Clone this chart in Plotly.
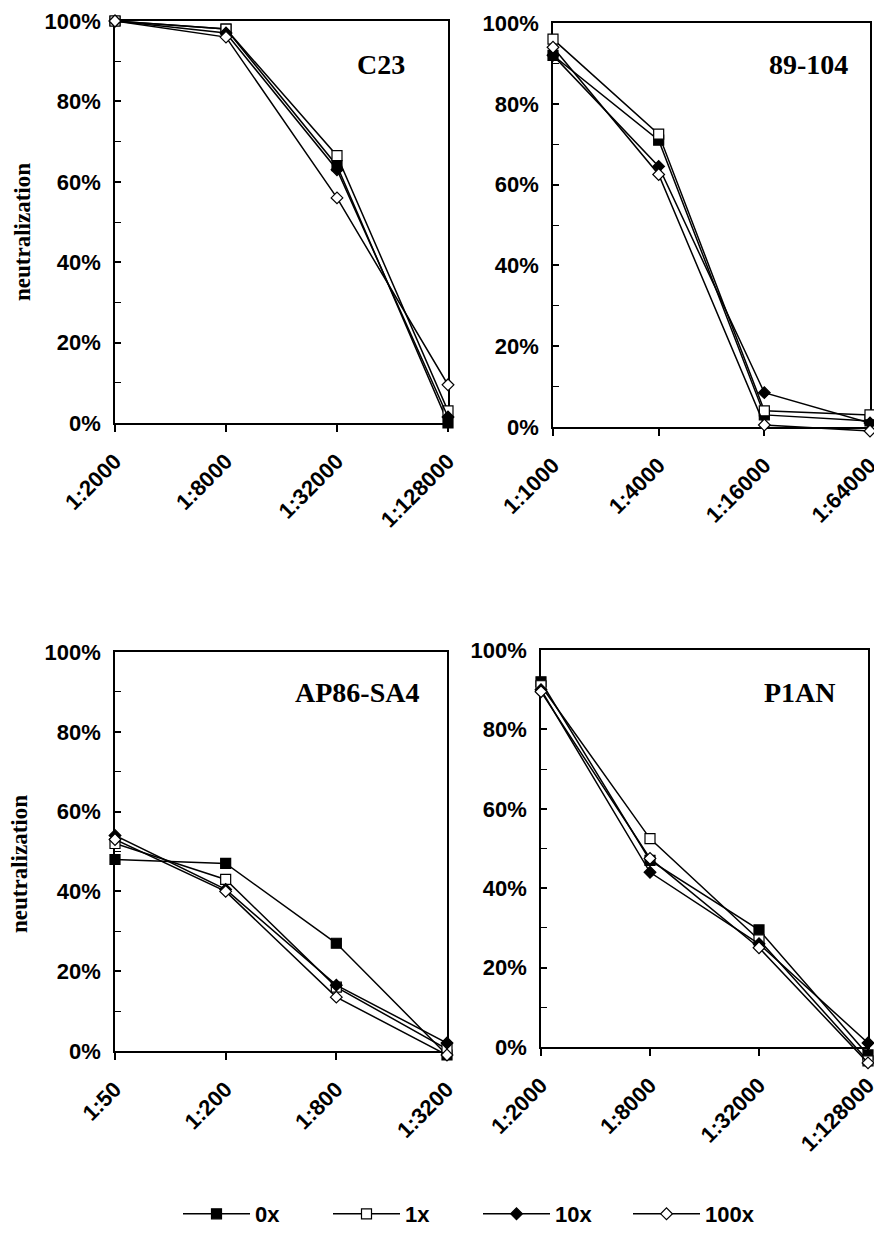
import plotly.graph_objects as go

# ---------------- data ----------------
panel_names = ["C23", "89-104", "AP86-SA4", "P1AN"]

dilutions_c23 = ["1:2000", "1:8000", "1:32000", "1:128000"]
dilutions_89104 = ["1:1000", "1:4000", "1:16000", "1:64000"]
dilutions_ap86 = ["1:50", "1:200", "1:800", "1:3200"]
dilutions_p1an = ["1:2000", "1:8000", "1:32000", "1:128000"]

series_names = ["0x", "1x", "10x", "100x"]

# neutralization (%) per series, per panel
c23_0x = [100, 98, 64, 0]
c23_1x = [100, 98, 66.5, 3]
c23_10x = [100, 97, 63, 1.5]
c23_100x = [100, 96, 56, 9.5]

p89_0x = [92, 71, 3, 1.5]
p89_1x = [96, 72.5, 4, 3]
p89_10x = [92, 64.5, 8.5, 1]
p89_100x = [94, 62.5, 0.5, -1]

ap86_0x = [48, 47, 27, -1]
ap86_1x = [52, 43, 16, 0.5]
ap86_10x = [54, 40.5, 16.5, 2]
ap86_100x = [53, 40, 13.5, -1]

p1an_0x = [92, 47, 29.5, -2]
p1an_1x = [91, 52.5, 27, -3.5]
p1an_10x = [90, 44, 26, 1]
p1an_100x = [89.5, 47.5, 25, -4]

y_ticks = [0, 20, 40, 60, 80, 100]
y_tick_labels = [f"{v}%" for v in y_ticks]

# ---------------- figure ----------------
# the page body has an 8px margin, so the figure starts at (8, 8) in the window;
# keep the page height within the window so no scrollbar appears
OFF = 8
W, H = 882 - OFF, 1235 - 2 * OFF
EXT = 24  # px: data axes reach a little below 0% so slightly negative points still show


def fx(px):
    return (px - OFF) / W


def fy(py):
    return 1 - (py - OFF) / H


panels = [
    dict(name=panel_names[0], labels=dilutions_c23,
         data=[c23_0x, c23_1x, c23_10x, c23_100x],
         px=(115, 448), py=(21, 423), title_xy=(381, 65), ytitle=(22, 232)),
    dict(name=panel_names[1], labels=dilutions_89104,
         data=[p89_0x, p89_1x, p89_10x, p89_100x],
         px=(553, 870), py=(23, 427), title_xy=(808, 65), ytitle=None),
    dict(name=panel_names[2], labels=dilutions_ap86,
         data=[ap86_0x, ap86_1x, ap86_10x, ap86_100x],
         px=(115, 447), py=(652, 1051), title_xy=(357, 693), ytitle=(19, 864)),
    dict(name=panel_names[3], labels=dilutions_p1an,
         data=[p1an_0x, p1an_1x, p1an_10x, p1an_100x],
         px=(541, 868), py=(650, 1047), title_xy=(800, 693), ytitle=None),
]

styles = [
    dict(symbol="square", color="black", size=10),
    dict(symbol="square", color="white", size=10),
    dict(symbol="diamond", color="black", size=9),
    dict(symbol="diamond", color="white", size=9),
]

fig = go.Figure()
annotations = []
sans = "Arial, Liberation Sans, sans-serif"
serif = "Times New Roman, Liberation Serif, serif"

# visible frames / axes (subplots 1-4)
for i, p in enumerate(panels):
    ax = "" if i == 0 else str(i + 1)
    xs = list(range(len(p["labels"])))
    xd = [fx(p["px"][0]), fx(p["px"][1])]
    yd = [fy(p["py"][1]), fy(p["py"][0])]
    fig.add_trace(go.Scatter(x=[], y=[], showlegend=False, hoverinfo="skip",
                             xaxis="x" + ax, yaxis="y" + ax))
    fig.update_layout(**{
        "xaxis" + ax: dict(
            domain=xd, range=[0, len(xs) - 1], tickvals=xs, ticktext=p["labels"],
            tickangle=-45, ticks="outside", ticklen=7, tickwidth=1.5, tickcolor="black",
            showline=True, linecolor="black", linewidth=1.5, mirror=True,
            showgrid=False, zeroline=False, anchor="y" + ax, automargin=False,
            tickfont=dict(family=sans, size=22, color="black", weight="bold"),
            ticklabelstandoff=8, ticklabeloverflow="allow",
        ),
        "yaxis" + ax: dict(
            domain=yd, range=[0, 100], tickvals=y_ticks, ticktext=y_tick_labels,
            ticks="inside", ticklen=6, tickwidth=1.5, tickcolor="black",
            minor=dict(dtick=10, tick0=0, ticks="inside", ticklen=6, tickwidth=1.2,
                       tickcolor="black", showgrid=False),
            showline=True, linecolor="black", linewidth=1.5, mirror=True,
            showgrid=False, zeroline=False, anchor="x" + ax, automargin=False,
            tickfont=dict(family=sans, size=22, color="black", weight="bold"),
            ticklabelstandoff=8, ticklabeloverflow="allow",
        ),
    })
    annotations.append(dict(
        text=p["name"], x=fx(p["title_xy"][0]), y=fy(p["title_xy"][1]),
        xref="paper", yref="paper", showarrow=False, xanchor="center", yanchor="middle",
        font=dict(family=serif, size=28, color="black", weight="bold"),
    ))
    if p["ytitle"] is not None:
        annotations.append(dict(
            text="neutralization", x=fx(p["ytitle"][0]), y=fy(p["ytitle"][1]),
            xref="paper", yref="paper", showarrow=False, textangle=-90,
            xanchor="center", yanchor="middle",
            font=dict(family=serif, size=23, color="black", weight="bold"),
        ))

# data layers (subplots 5-8): same scale as the visible axes, extended below 0%
for i, p in enumerate(panels):
    ax = str(i + 5)
    xs = list(range(len(p["labels"])))
    top, bot = p["py"]
    ext_units = 100 * EXT / (bot - top)
    for s, (vals, st) in enumerate(zip(p["data"], styles)):
        fig.add_trace(go.Scatter(
            x=xs, y=vals, mode="lines+markers",
            name=series_names[s], legendgroup=series_names[s],
            showlegend=(i == 0),
            line=dict(color="black", width=1.5),
            marker=dict(symbol=st["symbol"], size=st["size"], color=st["color"],
                        line=dict(color="black", width=1.2)),
            cliponaxis=False,
            xaxis="x" + ax, yaxis="y" + ax,
        ))
    fig.update_layout(**{
        "xaxis" + ax: dict(domain=[fx(p["px"][0]), fx(p["px"][1])],
                           range=[0, len(xs) - 1], visible=False, showgrid=False,
                           zeroline=False, anchor="y" + ax, automargin=False),
        "yaxis" + ax: dict(domain=[fy(bot + EXT), fy(top)], range=[-ext_units, 100],
                           visible=False, showgrid=False, zeroline=False,
                           anchor="x" + ax, automargin=False),
    })

fig.update_layout(
    width=W, height=H,
    margin=dict(l=0, r=0, t=0, b=0, autoexpand=False),
    paper_bgcolor="white", plot_bgcolor="rgba(0,0,0,0)",
    annotations=annotations,
    showlegend=True,
    legend=dict(
        orientation="h", x=fx(478), xanchor="center", y=fy(1214), yanchor="middle",
        font=dict(family=sans, size=22, color="black", weight="bold"),
        entrywidth=68, entrywidthmode="pixels", itemwidth=67,
        bgcolor="rgba(0,0,0,0)",
    ),
)

fig.write_html("out.html")
